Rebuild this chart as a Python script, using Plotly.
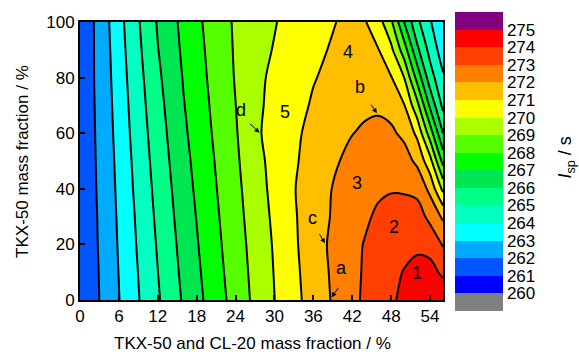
import plotly.graph_objects as go

# x: TKX-50 + CL-20 mass fraction (%), y: TKX-50 mass fraction (%)
x_vals = [0, 4, 8, 12, 16, 20, 24, 28, 32, 36, 40, 42, 44, 46, 48, 50, 52, 54, 56]
y_vals = [0, 10, 20, 30, 40, 50, 60, 70, 80, 90, 100]

# Isp (s), one row per y value
isp_y0   = [261.10, 262.31, 263.63, 264.89, 266.12, 267.28, 268.39, 269.49, 270.49, 271.41, 272.31, 272.76, 273.17, 273.54, 273.91, 274.14, 274.33, 274.51, 274.70]
isp_y10  = [261.10, 262.35, 263.70, 264.99, 266.24, 267.39, 268.49, 269.54, 270.54, 271.49, 272.35, 272.75, 273.11, 273.42, 273.73, 274.05, 274.40, 274.33, 273.81]
isp_y20  = [261.15, 262.39, 263.78, 265.09, 266.35, 267.50, 268.58, 269.60, 270.60, 271.57, 272.39, 272.74, 273.06, 273.30, 273.50, 273.68, 273.75, 273.65, 272.92]
isp_y30  = [261.15, 262.43, 263.85, 265.20, 266.47, 267.60, 268.67, 269.69, 270.68, 271.54, 272.26, 272.56, 272.86, 273.15, 273.40, 273.50, 273.42, 272.75, 271.83]
isp_y40  = [261.20, 262.47, 263.94, 265.31, 266.59, 267.71, 268.75, 269.79, 270.76, 271.52, 272.20, 272.50, 272.70, 272.85, 272.92, 272.88, 272.75, 271.75, 269.75]
isp_y50  = [261.20, 262.52, 264.02, 265.43, 266.71, 267.81, 268.84, 269.89, 270.71, 271.38, 271.99, 272.25, 272.45, 272.52, 272.50, 272.40, 271.80, 270.35, 267.67]
isp_y60  = [261.20, 262.57, 264.12, 265.55, 266.84, 267.92, 268.92, 270.00, 270.68, 271.26, 271.74, 271.98, 272.12, 272.20, 272.15, 271.80, 270.79, 268.52, 266.00]
isp_y70  = [261.20, 262.62, 264.21, 265.68, 266.96, 268.01, 268.99, 269.95, 270.55, 271.10, 271.50, 271.70, 271.85, 271.88, 271.70, 271.05, 269.33, 266.80, 264.75]
isp_y80  = [261.20, 262.67, 264.31, 265.82, 267.07, 268.11, 269.06, 269.91, 270.45, 270.95, 271.30, 271.45, 271.50, 271.40, 271.05, 270.00, 267.68, 265.46, 264.12]
isp_y90  = [261.15, 262.72, 264.42, 265.97, 267.18, 268.19, 269.10, 269.79, 270.32, 270.77, 271.20, 271.25, 271.20, 271.04, 270.22, 268.49, 266.23, 264.66, 263.50]
isp_y100 = [261.10, 262.78, 264.53, 266.09, 267.28, 268.28, 269.13, 269.70, 270.20, 270.62, 271.05, 271.12, 271.05, 270.42, 269.18, 267.00, 265.23, 264.10, 263.05]

isp_rows = [isp_y0, isp_y10, isp_y20, isp_y30, isp_y40, isp_y50,
            isp_y60, isp_y70, isp_y80, isp_y90, isp_y100]

x_ticks = [0, 6, 12, 18, 24, 30, 36, 42, 48, 54]
y_ticks = [0, 20, 40, 60, 80, 100]
cbar_ticks = list(range(260, 276))
cbar_range = [259, 276]

# band colours from below 260 up to above 275
band_colors = ["#808080", "#0000FF", "#0055FF", "#00AAFF", "#00FFFF", "#00FFC0",
               "#00FF88", "#00E650", "#00FF00", "#55FF00", "#AAFF00", "#FFFF00",
               "#FFBF00", "#FF8000", "#FF4000", "#FF0000", "#800080"]

# region labels and arrows
region_labels = ["1", "2", "3", "4", "5", "a", "b", "c", "d"]
label_x = [52.0, 48.4, 42.7, 41.4, 31.6, 40.4, 43.2, 35.9, 24.9]
label_y = [9.6, 26.4, 42.0, 89.3, 67.7, 11.4, 76.7, 29.4, 68.3]
arrow_tail_x = [40.0, 44.75, 36.8, 26.0]
arrow_tail_y = [4.8, 70.8, 24.2, 63.8]
arrow_head_x = [38.8, 45.8, 37.8, 27.7]
arrow_head_y = [1.0, 67.2, 20.4, 60.2]

FONT = "Liberation Sans, Arial, sans-serif"

n = len(band_colors) - 1
# colours sampled at band centres by the contour fill
fill_scale = [[i / n, c] for i, c in enumerate(band_colors)]
# hard-stepped scale for the colour bar (equal-height bands)
m = len(band_colors)
step_scale = []
for i, c in enumerate(band_colors):
    step_scale.append([i / m, c])
    step_scale.append([(i + 1) / m, c])

fig = go.Figure()
fig.add_trace(go.Contour(
    x=x_vals, y=y_vals, z=isp_rows,
    colorscale=fill_scale, showscale=False,
    contours=dict(start=260, end=275, size=1, coloring="fill", showlines=True),
    line=dict(color="black", width=2),
    hoverinfo="skip",
))
# colour bar only (no visible marks)
fig.add_trace(go.Scatter(
    x=[None, None], y=[None, None], mode="markers", hoverinfo="skip",
    marker=dict(color=cbar_range, cmin=cbar_range[0], cmax=cbar_range[1],
                colorscale=step_scale, showscale=True,
                colorbar=dict(
                    x=1.0331, xanchor="left", xpad=0, ypad=0,
                    y=0.498, yanchor="middle",
                    thickness=48, thicknessmode="pixels",
                    len=299, lenmode="pixels",
                    outlinewidth=0,
                    tickvals=cbar_ticks, ticktext=[str(t) for t in cbar_ticks],
                    ticks="", tickfont=dict(family=FONT, size=17, color="black"),
                )),
))

annotations = []
for t, lx, ly in zip(region_labels, label_x, label_y):
    annotations.append(dict(x=lx, y=ly, xref="x", yref="y", text=t, showarrow=False,
                            font=dict(family=FONT, size=18, color="black")))
for tx, ty, hx, hy in zip(arrow_tail_x, arrow_tail_y, arrow_head_x, arrow_head_y):
    annotations.append(dict(x=hx, y=hy, ax=tx, ay=ty, xref="x", yref="y",
                            axref="x", ayref="y", text="", showarrow=True,
                            arrowhead=2, arrowsize=1.0, arrowwidth=1, arrowcolor="black"))

annotations.append(dict(x=0.475, y=-0.158, xref="paper", yref="paper",
                        text="TKX-50 and CL-20 mass fraction / %", showarrow=False,
                        xanchor="center", yanchor="middle",
                        font=dict(family=FONT, size=17, color="black")))
annotations.append(dict(x=-0.16, y=0.5, xref="paper", yref="paper",
                        text="TKX-50 mass fraction / %", showarrow=False, textangle=-90,
                        xanchor="center", yanchor="middle",
                        font=dict(family=FONT, size=17, color="black")))
annotations.append(dict(x=1.34, y=0.514, xref="paper", yref="paper",
                        text="<i>I</i><sub>sp</sub> / s", showarrow=False, textangle=-90,
                        xanchor="center", yanchor="middle",
                        font=dict(family=FONT, size=18, color="black")))

fig.update_layout(
    width=579, height=355,
    margin=dict(l=80, r=136, t=22, b=55, autoexpand=False),
    paper_bgcolor="white", plot_bgcolor="white",
    annotations=annotations,
    showlegend=False,
    xaxis=dict(range=[0, 56], tickvals=x_ticks, ticks="inside", ticklen=5, tickwidth=1.5,
               tickcolor="black", showline=True, linecolor="black", linewidth=2, mirror=True,
               showgrid=False, zeroline=False,
               tickfont=dict(family=FONT, size=17, color="black")),
    yaxis=dict(range=[0, 100], tickvals=y_ticks, ticks="inside", ticklen=5, tickwidth=1.5,
               tickcolor="black", showline=True, linecolor="black", linewidth=2, mirror=True,
               showgrid=False, zeroline=False,
               tickfont=dict(family=FONT, size=17, color="black")),
)

fig.write_html("out.html", config={"displayModeBar": False},
               post_script="document.body.style.margin='0';document.body.style.padding='0';")
